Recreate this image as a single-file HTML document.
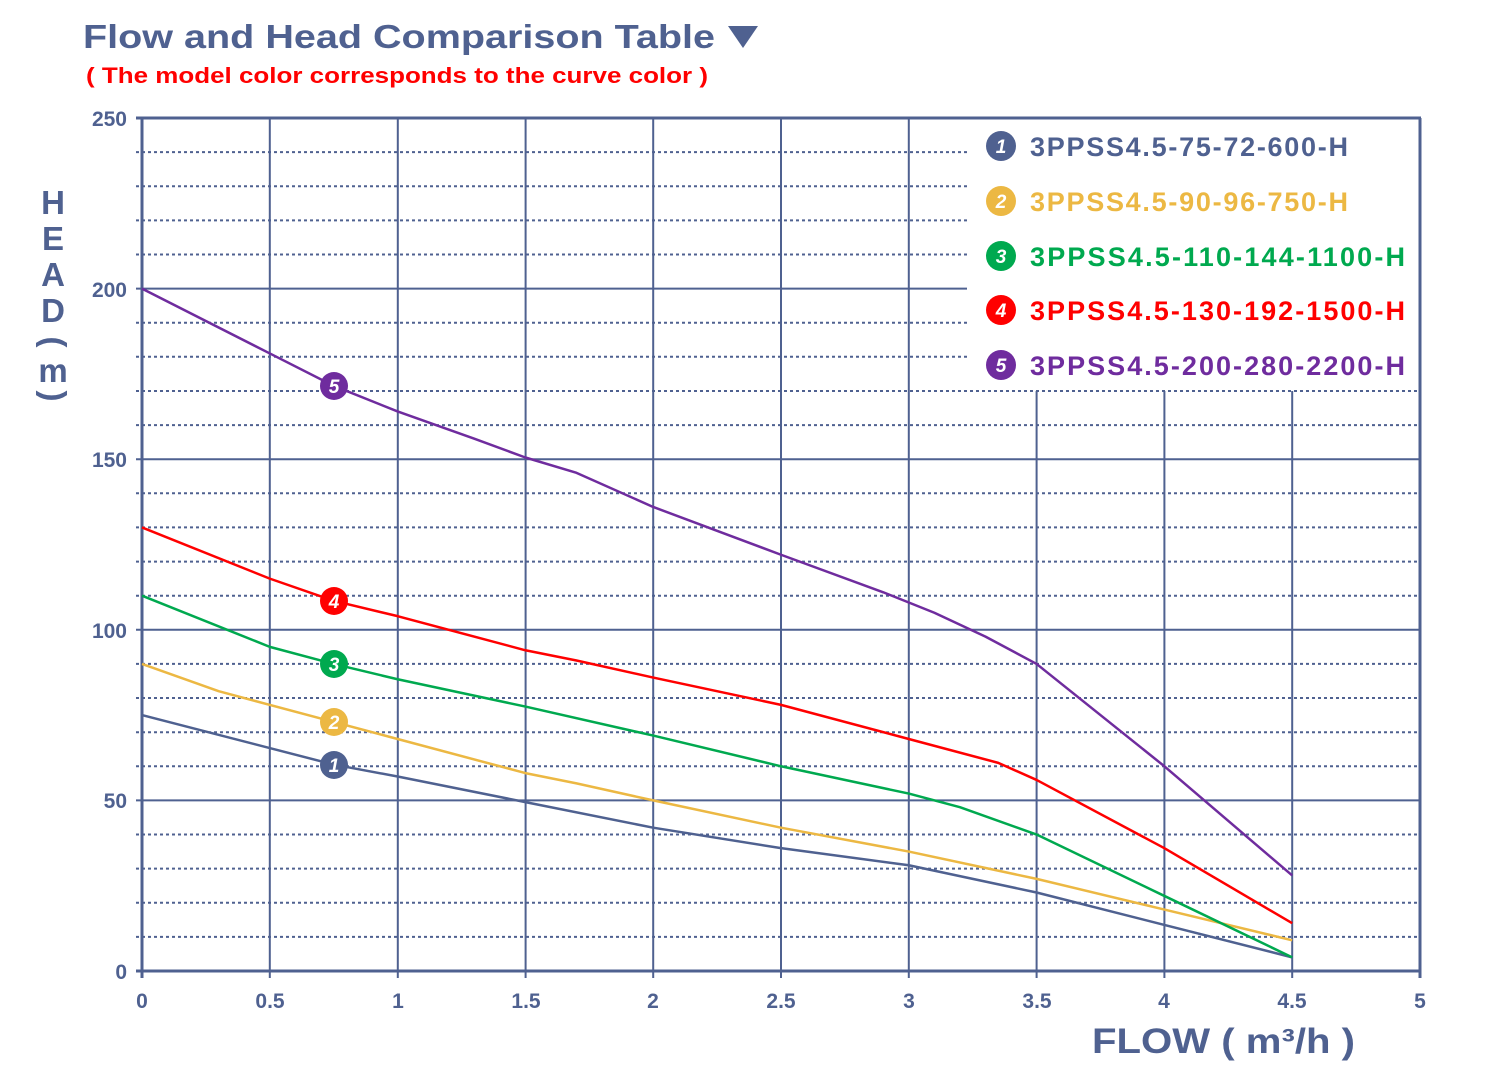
<!DOCTYPE html>
<html><head><meta charset="utf-8"><style>
body{margin:0;background:#fff;width:1500px;height:1070px;overflow:hidden}
svg{display:block}
text{font-family:"Liberation Sans",sans-serif;font-weight:bold}
</style></head><body>
<svg width="1500" height="1070" viewBox="0 0 1500 1070">
<text x="83" y="48" font-size="33" fill="#4f6190" textLength="632" lengthAdjust="spacingAndGlyphs">Flow and Head Comparison Table</text>
<polygon points="728,26 758,26 743,48" fill="#4f6190"/>
<text x="86" y="83" font-size="22" fill="#ff0000" textLength="622" lengthAdjust="spacingAndGlyphs">( The model color corresponds to the curve color )</text>
<g stroke="#4f6190" stroke-width="2" stroke-dasharray="3,3">
<line x1="136" x2="1420" y1="936.9" y2="936.9"/><line x1="136" x2="1420" y1="902.8" y2="902.8"/><line x1="136" x2="1420" y1="868.6" y2="868.6"/><line x1="136" x2="1420" y1="834.5" y2="834.5"/>
<line x1="136" x2="1420" y1="766.3" y2="766.3"/><line x1="136" x2="1420" y1="732.2" y2="732.2"/><line x1="136" x2="1420" y1="698" y2="698"/><line x1="136" x2="1420" y1="663.9" y2="663.9"/>
<line x1="136" x2="1420" y1="595.7" y2="595.7"/><line x1="136" x2="1420" y1="561.6" y2="561.6"/><line x1="136" x2="1420" y1="527.4" y2="527.4"/><line x1="136" x2="1420" y1="493.3" y2="493.3"/>
<line x1="136" x2="1420" y1="425.1" y2="425.1"/><line x1="136" x2="1420" y1="391" y2="391"/><line x1="136" x2="967" y1="356.8" y2="356.8"/><line x1="136" x2="967" y1="322.7" y2="322.7"/>
<line x1="136" x2="967" y1="254.5" y2="254.5"/><line x1="136" x2="967" y1="220.4" y2="220.4"/><line x1="136" x2="967" y1="186.2" y2="186.2"/><line x1="136" x2="967" y1="152.1" y2="152.1"/>
</g>
<g stroke="#4f6190" stroke-width="2">
<line x1="136" x2="1420" y1="800.4" y2="800.4"/><line x1="136" x2="1420" y1="629.8" y2="629.8"/><line x1="136" x2="1420" y1="459.2" y2="459.2"/><line x1="136" x2="967" y1="288.6" y2="288.6"/>
<line x1="136" x2="1421" y1="118" y2="118" stroke-width="3"/>
<line x1="1420" x2="1420" y1="118" y2="978" stroke-width="3"/>
<line x1="269.8" x2="269.8" y1="118" y2="978"/><line x1="397.8" x2="397.8" y1="118" y2="978"/><line x1="525.6" x2="525.6" y1="118" y2="978"/><line x1="653.2" x2="653.2" y1="118" y2="978"/><line x1="781" x2="781" y1="118" y2="978"/><line x1="908.8" x2="908.8" y1="118" y2="978"/>
<line x1="1036.6" x2="1036.6" y1="391" y2="978"/><line x1="1164.4" x2="1164.4" y1="391" y2="978"/><line x1="1292.2" x2="1292.2" y1="391" y2="978"/>
<line x1="142" x2="142" y1="118" y2="978" stroke-width="3"/>
<line x1="136" x2="1420" y1="971" y2="971" stroke-width="3"/>
</g>
<g transform="translate(142,971) scale(255.6,-3.412)" fill="none" stroke-width="2.5" stroke-linejoin="round">
<polyline vector-effect="non-scaling-stroke" stroke="#4f6190" points="0,75 0.75,60.5 1,57 1.5,49.5 2,42 2.5,36 3,31 3.5,23 4,13.5 4.5,4"/>
<polyline vector-effect="non-scaling-stroke" stroke="#ecb843" points="0,90 0.3,82 0.75,73 1,68 1.5,58 1.7,55 2,50 2.5,42 3,35 3.5,27 4,18 4.5,9"/>
<polyline vector-effect="non-scaling-stroke" stroke="#00a94f" points="0,110 0.5,95 0.75,90 1,85.5 1.5,77.5 2,69 2.5,60 3,52 3.2,48 3.5,40 4,22 4.5,4"/>
<polyline vector-effect="non-scaling-stroke" stroke="#ff0000" points="0,130 0.5,115 0.75,108.5 1,104 1.5,94 1.7,91 2,86 2.5,78 3,68 3.35,61 3.5,56 4,36 4.5,14"/>
<polyline vector-effect="non-scaling-stroke" stroke="#6f2c9e" points="0,200 0.5,181 0.75,171.5 1,164 1.3,156 1.5,150.5 1.7,146 2,136 2.5,122 2.9,111 3.1,105 3.3,98 3.5,90 4,60 4.5,28"/>
</g>
<g font-size="19" text-anchor="middle" font-style="italic">
<circle cx="334" cy="765" r="14" fill="#4f6190"/><text x="334" y="772" fill="#fff">1</text>
<circle cx="334" cy="722" r="14" fill="#ecb843"/><text x="334" y="729" fill="#fff">2</text>
<circle cx="334" cy="664" r="14" fill="#00a94f"/><text x="334" y="671" fill="#fff">3</text>
<circle cx="334" cy="601" r="14" fill="#ff0000"/><text x="334" y="608" fill="#fff">4</text>
<circle cx="334" cy="386" r="14" fill="#6f2c9e"/><text x="334" y="393" fill="#fff">5</text>
<circle cx="1001" cy="146" r="15" fill="#4f6190"/><text x="1001" y="153" fill="#fff">1</text>
<circle cx="1001" cy="201" r="15" fill="#ecb843"/><text x="1001" y="208" fill="#fff">2</text>
<circle cx="1001" cy="256" r="15" fill="#00a94f"/><text x="1001" y="263" fill="#fff">3</text>
<circle cx="1001" cy="310" r="15" fill="#ff0000"/><text x="1001" y="317" fill="#fff">4</text>
<circle cx="1001" cy="365" r="15" fill="#6f2c9e"/><text x="1001" y="372" fill="#fff">5</text>
</g>
<g font-size="27" lengthAdjust="spacingAndGlyphs">
<text x="1030" y="156" fill="#4f6190" textLength="318">3PPSS4.5-75-72-600-H</text>
<text x="1030" y="211" fill="#ecb843" textLength="318">3PPSS4.5-90-96-750-H</text>
<text x="1030" y="266" fill="#00a94f" textLength="375">3PPSS4.5-110-144-1100-H</text>
<text x="1030" y="320" fill="#ff0000" textLength="375">3PPSS4.5-130-192-1500-H</text>
<text x="1030" y="375" fill="#6f2c9e" textLength="375">3PPSS4.5-200-280-2200-H</text>
</g>
<g font-size="21" fill="#4f6190" text-anchor="end">
<text x="127" y="126">250</text><text x="127" y="297">200</text><text x="127" y="467">150</text><text x="127" y="638">100</text><text x="127" y="808">50</text><text x="127" y="979">0</text>
</g>
<g font-size="21" fill="#4f6190" text-anchor="middle">
<text x="142" y="1008">0</text><text x="270" y="1008">0.5</text><text x="398" y="1008">1</text><text x="526" y="1008">1.5</text><text x="653" y="1008">2</text><text x="781" y="1008">2.5</text><text x="909" y="1008">3</text><text x="1037" y="1008">3.5</text><text x="1164" y="1008">4</text><text x="1292" y="1008">4.5</text><text x="1420" y="1008">5</text>
</g>
<text x="1092" y="1053" font-size="35" fill="#4f6190" textLength="263" lengthAdjust="spacingAndGlyphs">FLOW ( m³/h )</text>
<g font-size="33" fill="#4f6190" text-anchor="middle">
<text x="53" y="214">H</text><text x="53" y="250">E</text><text x="53" y="286">A</text><text x="53" y="322">D</text>
<text x="53" y="352" transform="rotate(90 53 342)">(</text>
<text x="53" y="382">m</text>
<text x="53" y="406" transform="rotate(90 53 396)">)</text>
</g>
</svg>
</body></html>
